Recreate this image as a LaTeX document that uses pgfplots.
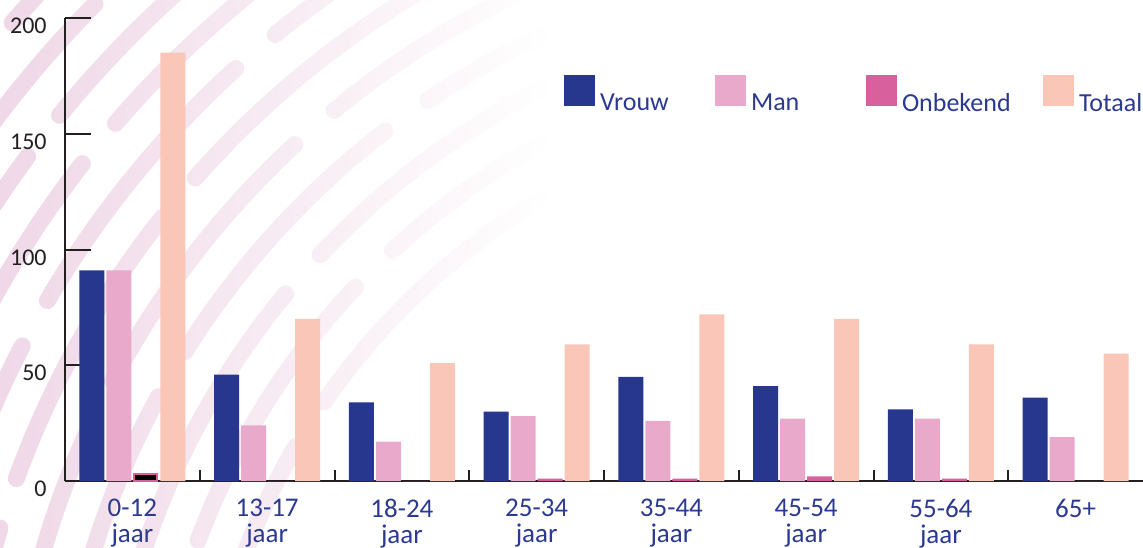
\documentclass[border=0pt]{standalone}
\usepackage{fontspec}
\setmainfont{Carlito}
\usepackage{pgfplots}
\pgfplotsset{compat=1.18}
\usetikzlibrary{fadings}
\definecolor{vrouw}{RGB}{39,55,141}
\definecolor{man}{RGB}{232,169,203}
\definecolor{onbek}{RGB}{216,97,157}
\definecolor{totaal}{RGB}{249,198,184}
\definecolor{labblue}{RGB}{43,57,144}
\definecolor{axisblack}{RGB}{35,31,32}
\definecolor{arcpink}{RGB}{238,212,229}
\tikzfading[name=fadeleft, left color=transparent!0, right color=transparent!100]
\begin{document}
\begin{tikzpicture}
% decorative background arcs
\begin{scope}
\clip (-32.5pt,-33pt) rectangle (539pt,240.5pt);
\foreach \r/\ph in {350/0,374/60,398/15,422/90,446/35,470/120,494/5,518/75,542/40,566/100,590/20} {
  \draw[arcpink, line width=8.5pt, line cap=round,
        path fading=fadeleft, fit fading=false,
        fading transform={shift={(92.5pt,100pt)}, xscale=6, yscale=5},
        dash pattern=on 150pt off 26pt, dash phase=\ph pt]
    (417.5pt,-159.5pt) ++(92:\r pt) arc[start angle=92, end angle=182, radius=\r pt];
}
\end{scope}
\begin{axis}[
  name=ax, at={(0,0)}, anchor=south west,
  width=539pt, height=231.5pt, scale only axis,
  xmin=-0.5, xmax=7.5, ymin=0, ymax=200,
  axis lines=left,
  axis line style={-, line width=1pt, color=axisblack},
  ybar, bar width=12.5pt,
  ytick={0,50,100,150,200},
  xtick={0,...,7},
  xticklabels={{0-12\\jaar},{13-17\\jaar},{18-24\\jaar},{25-34\\jaar},{35-44\\jaar},{45-54\\jaar},{55-64\\jaar},{65+}},
  minor xtick={0.5,1.5,...,6.5},
  tick align=inside,
  major tick length=13pt, minor tick length=5.5pt,
  major x tick style={draw=none},
  major y tick style={line width=1pt, color=axisblack},
  minor x tick style={line width=1pt, color=axisblack},
  /pgf/number format/assume math mode=true,
  yticklabel style={anchor=east, inner sep=0pt, xshift=-9pt, yshift=-4pt,
    font=\fontsize{12}{14}\selectfont, text=axisblack},
  xticklabel style={anchor=north, inner sep=0pt, yshift=-9pt, align=center,
    font=\fontsize{13.5}{13}\selectfont, text=labblue},
  legend columns=-1,
  legend style={at={(0.4629,0.8769)}, anchor=north west, draw=none, fill=none,
    inner sep=0pt, outer sep=0pt, column sep=2.5pt,
    font=\fontsize{13}{15}\selectfont, text=labblue,
    nodes={inner sep=0pt}},
]
\addplot[fill=vrouw, draw=none, bar shift=-20.25pt,
  legend image code/.code={\fill[vrouw] (0pt,0pt) rectangle (15.5pt,15.5pt);}]
  coordinates {(0,91) (1,46) (2,34) (3,30) (4,45) (5,41) (6,31) (7,36)};
\addlegendentry{\raisebox{2pt}{\makebox[55pt][l]{Vrouw}}}
\addplot[fill=man, draw=none, bar shift=-6.75pt,
  legend image code/.code={\fill[man] (0pt,0pt) rectangle (15.5pt,15.5pt);}]
  coordinates {(0,91) (1,24) (2,17) (3,28) (4,26) (5,27) (6,27) (7,19)};
\addlegendentry{\raisebox{2pt}{\makebox[55pt][l]{Man}}}
\addplot[fill=onbek, draw=none, bar shift=6.75pt,
  legend image code/.code={\fill[onbek] (0pt,0pt) rectangle (15.5pt,15.5pt);}]
  coordinates {(1,0) (2,0) (3,1) (4,1) (5,2) (6,1) (7,0)};
\addlegendentry{\raisebox{2pt}{\makebox[68pt][l]{Onbekend}}}
\addplot[fill=totaal, draw=none, bar shift=20.25pt,
  legend image code/.code={\fill[totaal] (0pt,0pt) rectangle (15.5pt,15.5pt);}]
  coordinates {(0,185) (1,70) (2,51) (3,59) (4,72) (5,70) (6,59) (7,55)};
\addlegendentry{\raisebox{2pt}{Totaal}}
\addplot[fill=black, draw=onbek, line width=1pt, bar width=11.5pt, bar shift=6.75pt, forget plot]
  coordinates {(0,3)};
\end{axis}
\pgfresetboundingbox
\path ([shift={(-32.5pt,-33pt)}]ax.south west) rectangle ([shift={(0pt,9pt)}]ax.north east);
\end{tikzpicture}
\end{document}
